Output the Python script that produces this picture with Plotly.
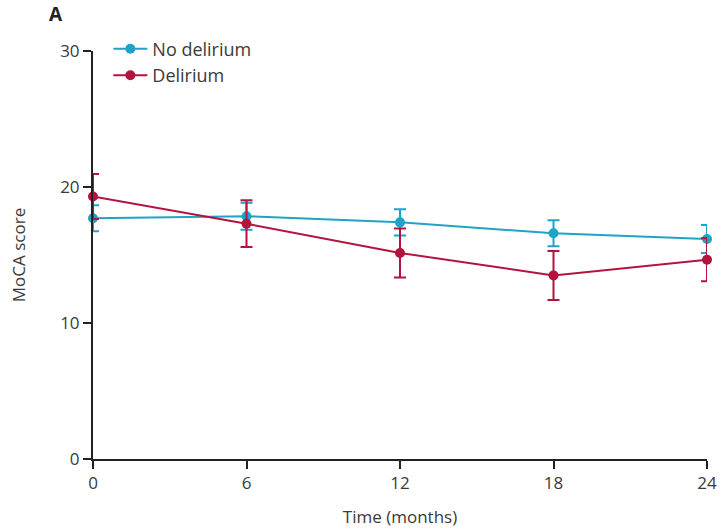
import plotly.graph_objects as go

months = [0, 6, 12, 18, 24]
no_delirium = [17.7, 17.85, 17.4, 16.6, 16.18]
no_delirium_err = [0.95, 1.0, 0.97, 0.95, 1.03]
delirium = [19.3, 17.3, 15.15, 13.5, 14.65]
delirium_err = [1.65, 1.72, 1.8, 1.8, 1.58]

cyan = "#1fa3c7"
red = "#b3143f"
font_family = "Open Sans, sans-serif"

fig = go.Figure()
fig.add_trace(go.Scatter(
    x=months, y=no_delirium, name="No delirium", mode="lines+markers",
    line=dict(color=cyan, width=2), marker=dict(color=cyan, size=10),
    error_y=dict(type="data", array=no_delirium_err, color=cyan, thickness=2, width=6),
    cliponaxis=False,
))
fig.add_trace(go.Scatter(
    x=months, y=delirium, name="Delirium", mode="lines+markers",
    line=dict(color=red, width=2), marker=dict(color=red, size=10),
    error_y=dict(type="data", array=delirium_err, color=red, thickness=2, width=6),
    cliponaxis=False,
))

fig.update_layout(
    width=722, height=530,
    margin=dict(l=93, r=15, t=51, b=71, autoexpand=False),
    paper_bgcolor="white", plot_bgcolor="white",
    font=dict(family=font_family, size=16, color="#3a3a3a"),
    showlegend=True,
    legend=dict(x=0.025, y=1.05, xanchor="left", yanchor="top",
                bgcolor="rgba(0,0,0,0)", font=dict(size=18), tracegroupgap=0,
                itemwidth=34),
    xaxis=dict(range=[0, 24], tickvals=[0, 6, 12, 18, 24], showgrid=False,
               zeroline=False, showline=True, linecolor="#222", linewidth=2,
               ticks="outside", ticklen=8, tickwidth=2, tickcolor="#222",
               automargin=False,
               title=dict(text="Time (months)", standoff=18, font=dict(size=17)),
               tickfont=dict(size=17)),
    yaxis=dict(range=[0, 30], tickvals=[0, 10, 20, 30], showgrid=False,
               zeroline=False, showline=True, linecolor="#222", linewidth=2,
               ticks="outside", ticklen=8, tickwidth=2, tickcolor="#222",
               automargin=False,
               title=dict(text="MoCA score", standoff=30, font=dict(size=17)),
               tickfont=dict(size=17)),
    annotations=[dict(text="<b>A</b>", xref="paper", yref="paper", x=-0.075, y=1.055,
                      xanchor="left", yanchor="bottom", showarrow=False,
                      font=dict(size=19, color="#222"))],
)

fig.write_html("out.html")
